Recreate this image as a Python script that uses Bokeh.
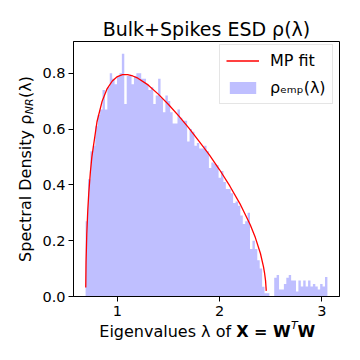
import numpy as np
from bokeh.plotting import figure
from bokeh.models import (Range1d, FixedTicker, PrintfTickFormatter, LinearAxis,
                          Legend, LegendItem, Label, BoxAnnotation)
from bokeh.embed import file_html
from bokeh.resources import INLINE

# ---------------- data ----------------
title_text = "Bulk+Spikes ESD ρ(λ)"
legend_fit = "MP fit"
legend_emp = "ρₑₘₚ(λ)"
xlabel_main = "Eigenvalues λ of"
xlabel_bold = "X = W"
xlabel_sup = "T"
xlabel_last = "W"
ylabel_main = "Spectral Density ρ"
ylabel_sub = "NR"
ylabel_tail = "(λ)"

x_ticks = [1, 2, 3]
y_ticks = [0.0, 0.2, 0.4, 0.6, 0.8]

# histogram (100 bins between smallest and largest eigenvalue)
hist_min = 0.6885
hist_max = 3.0555
esd_density = [
    0.27, 0.42, 0.52, 0.54, 0.61, 0.65, 0.67, 0.74, 0.67, 0.75,
    0.80, 0.78, 0.76, 0.79, 0.80, 0.87, 0.69, 0.79, 0.79, 0.76,
    0.79, 0.80, 0.80, 0.78, 0.78, 0.76, 0.74, 0.75, 0.69, 0.72,
    0.78, 0.71, 0.66, 0.72, 0.70, 0.66, 0.62, 0.62, 0.67, 0.64,
    0.63, 0.63, 0.555, 0.60, 0.59, 0.54, 0.55, 0.53, 0.53, 0.54,
    0.52, 0.46, 0.48, 0.475, 0.47, 0.425, 0.45, 0.41, 0.385, 0.385,
    0.37, 0.335, 0.34, 0.325, 0.29, 0.26, 0.27, 0.30, 0.17, 0.20,
    0.17, 0.13, 0.10, 0.035, 0.012, 0.012, 0.0, 0.0, 0.067, 0.077,
    0.025, 0.025, 0.045, 0.067, 0.077, 0.057, 0.057, 0.018, 0.057, 0.036,
    0.057, 0.036, 0.057, 0.036, 0.045, 0.036, 0.025, 0.045, 0.036, 0.07,
]

# Marchenko-Pastur fit curve
mp_lambda = [0.6902, 0.693, 0.70, 0.71, 0.72, 0.735, 0.75, 0.80, 0.85, 0.90,
             0.95, 1.00, 1.05, 1.10, 1.15, 1.20, 1.30, 1.40, 1.50, 1.60,
             1.70, 1.80, 1.90, 2.00, 2.10, 2.20, 2.30, 2.35, 2.40, 2.43,
             2.44, 2.45, 2.457]
mp_density = [0.032, 0.123, 0.222, 0.309, 0.372, 0.444, 0.500, 0.626, 0.699, 0.745,
              0.772, 0.788, 0.795, 0.795, 0.790, 0.782, 0.758, 0.725, 0.688, 0.647,
              0.603, 0.556, 0.507, 0.454, 0.396, 0.332, 0.257, 0.211, 0.154, 0.106,
              0.085, 0.057, 0.020]

# ---------------- layout ----------------
FONT = "DejaVu Sans"
W = H = 352                        # canvas size (px)
X0, X1 = 0.5702, 3.1738            # visible data range of the axes box
Y0, Y1 = 0.0, 0.9135
BOX_L, BOX_R, BOX_T, BOX_B = 73, 339, 41, 296   # axes box in canvas px

ux = (X1 - X0) / (BOX_R - BOX_L)   # data units per px
uy = (Y1 - Y0) / (BOX_B - BOX_T)
XS, XE = X0 - BOX_L * ux, X1 + (W - BOX_R) * ux
YS, YE = Y0 - (H - BOX_B) * uy, Y1 + BOX_T * uy


def dx(px):
    return XS + px * ux


def dy(py):
    return YE - py * uy


p = figure(width=W, height=H, output_backend="svg", toolbar_location=None,
           x_range=Range1d(XS, XE), y_range=Range1d(YS, YE),
           x_axis_location=None, y_axis_location=None,
           min_border=0, min_border_left=0, min_border_right=0,
           min_border_top=0, min_border_bottom=0)
p.background_fill_color = "white"
p.border_fill_color = "white"
p.outline_line_color = None
p.xgrid.visible = False
p.ygrid.visible = False

xaxis = LinearAxis(fixed_location=Y0, bounds=(X0, X1),
                   ticker=FixedTicker(ticks=x_ticks),
                   formatter=PrintfTickFormatter(format="%d"))
yaxis = LinearAxis(fixed_location=X0, bounds=(Y0, Y1),
                   ticker=FixedTicker(ticks=y_ticks),
                   formatter=PrintfTickFormatter(format="%.1f"))
for ax in (xaxis, yaxis):
    ax.axis_line_color = "black"
    ax.major_tick_line_color = "black"
    ax.major_tick_out = 5
    ax.major_tick_in = 0
    ax.minor_tick_out = 0
    ax.minor_tick_in = 0
    ax.major_label_text_font = FONT
    ax.major_label_text_font_size = "14.5px"
    ax.major_label_text_color = "black"
xaxis.major_label_standoff = 4
yaxis.major_label_standoff = 3
p.add_layout(xaxis, "below")
p.add_layout(yaxis, "left")

# histogram as one stepped area (no seams between adjacent bins)
edges = np.linspace(hist_min, hist_max, len(esd_density) + 1)
step_top = list(esd_density) + [esd_density[-1]]
hist = p.varea_step(x=edges, y1=0, y2=step_top, step_mode="after",
                    fill_color="#bfbfff", fill_alpha=1.0)

fit = p.line(mp_lambda, mp_density, line_color="red", line_width=1.3)

# axes box (spines)
p.add_layout(BoxAnnotation(left=X0, right=X1, bottom=Y0, top=Y1,
                           fill_alpha=0, fill_color=None,
                           line_color="black", line_width=1, line_alpha=1))

legend = Legend(items=[LegendItem(label=legend_fit, renderers=[fit]),
                       LegendItem(label=legend_emp, renderers=[hist])],
                location=(219, H - 104), padding=6, spacing=8,
                glyph_width=33, glyph_height=15, label_height=18,
                label_standoff=11,
                label_text_font=FONT, label_text_font_size="16px",
                label_text_color="black",
                border_line_color="#cccccc", border_line_width=1,
                background_fill_color="white", background_fill_alpha=0.8)
p.add_layout(legend)

lab = dict(text_font=FONT, text_font_size="16px", text_color="black",
           text_baseline="alphabetic")
small = dict(lab)
small["text_font_size"] = "11px"

# title
p.add_layout(Label(x=dx((BOX_L + BOX_R) / 2), y=dy(28), text=title_text,
                   text_align="center", text_font=FONT, text_font_size="19px",
                   text_color="black", text_baseline="alphabetic"))

# x label
XL_BASE = 331
p.add_layout(Label(x=dx(230.6), y=dy(XL_BASE), text=xlabel_main,
                   text_align="right", **lab))
p.add_layout(Label(x=dx(235.7), y=dy(XL_BASE), text=xlabel_bold,
                   text_align="left", text_font_style="bold", **lab))
p.add_layout(Label(x=dx(290.4), y=dy(XL_BASE - 6.5), text=xlabel_sup,
                   text_align="left", text_font_style="italic", **small))
p.add_layout(Label(x=dx(297.0), y=dy(XL_BASE), text=xlabel_last,
                   text_align="left", text_font_style="bold", **lab))

# y label (rotated)
YL_BASE = 25
p.add_layout(Label(x=dx(YL_BASE), y=dy(114.2), angle=np.pi / 2, text=ylabel_main,
                   text_align="right", **lab))
p.add_layout(Label(x=dx(YL_BASE + 3.5), y=dy(113.7), angle=np.pi / 2, text=ylabel_sub,
                   text_align="left", text_font_style="italic", **small))
p.add_layout(Label(x=dx(YL_BASE), y=dy(97.5), angle=np.pi / 2, text=ylabel_tail,
                   text_align="left", **lab))

open("out.html", "w").write(file_html(p, INLINE, title="Bulk+Spikes ESD"))
